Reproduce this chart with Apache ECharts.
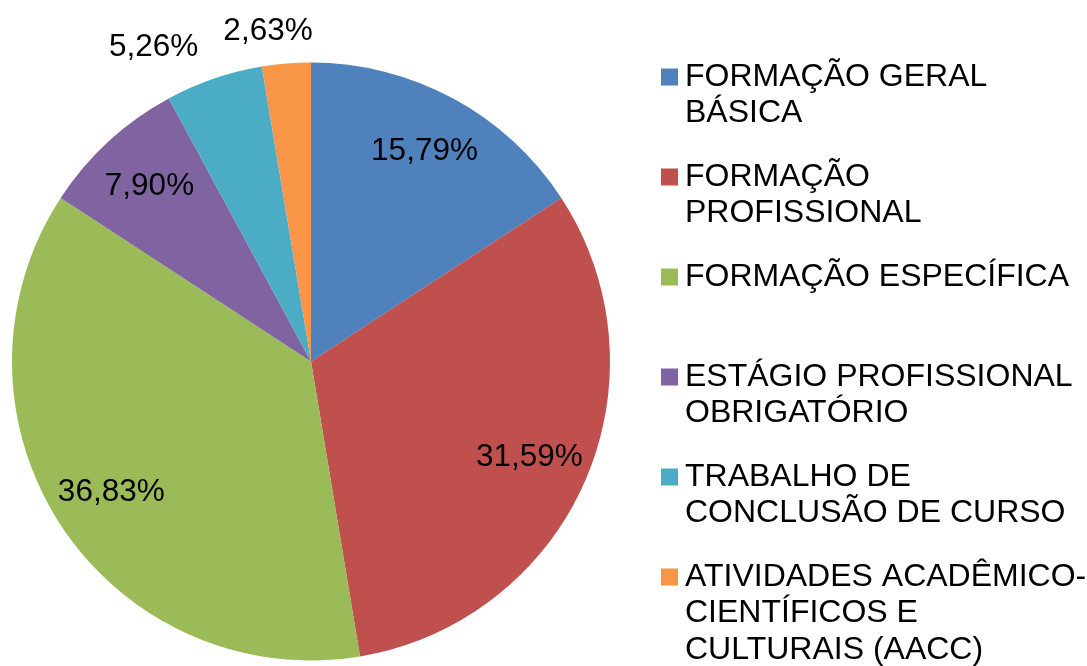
<!DOCTYPE html>
<html>
<head>
<meta charset="utf-8">
<script src="https://cdn.jsdelivr.net/npm/echarts@6/dist/echarts.min.js"></script>
<style>
html,body{margin:0;padding:0;background:#fff;}
#chart{width:1087px;height:666px;}
</style>
</head>
<body>
<div id="chart"></div>
<script>
// ---- data ----
const categories = [
  'FORMAÇÃO GERAL BÁSICA',
  'FORMAÇÃO PROFISSIONAL',
  'FORMAÇÃO ESPECÍFICA',
  'ESTÁGIO PROFISSIONAL OBRIGATÓRIO',
  'TRABALHO DE CONCLUSÃO DE CURSO',
  'ATIVIDADES ACADÊMICO-CIENTÍFICOS E CULTURAIS (AACC)'
];
const values = [15.79, 31.59, 36.83, 7.90, 5.26, 2.63];
const legendText = [
  'FORMAÇÃO GERAL\nBÁSICA',
  'FORMAÇÃO\nPROFISSIONAL',
  'FORMAÇÃO ESPECÍFICA',
  'ESTÁGIO PROFISSIONAL\nOBRIGATÓRIO',
  'TRABALHO DE\nCONCLUSÃO DE CURSO',
  'ATIVIDADES ACADÊMICO-\nCIENTÍFICOS E\nCULTURAIS (AACC)'
];

// ---- styles ----
const colors = ['#4F81BD', '#C0504D', '#9BBB59', '#8064A2', '#4BACC6', '#F79646'];
const FONT = "'Liberation Sans', Arial, sans-serif";
const LEG_FS = 32;
const LBL_FS = 31.5;
const LH = 36.5;
const CENTER = [311, 361.5];
const R = 299;
const INNER_LABEL_R = 172;
// outside label tweaks (label line lengths) per slice index
const outsideLabels = {4: {len: 33, len2: 0}, 5: {len: 32, len2: -34}};

function fmtPct(v) { return v.toFixed(2).replace('.', ',') + '%'; }

const mainData = categories.map((n, i) => ({
  name: n, value: values[i], itemStyle: {color: colors[i]}
}));

const labelData = categories.map((n, i) => {
  const o = outsideLabels[i];
  const d = {name: n, value: values[i]};
  if (o) {
    d.label = {position: 'outside'};
    d.labelLine = {show: false, length: o.len, length2: o.len2};
  }
  return d;
});

const legends = categories.map((n, i) => {
  const lines = legendText[i].split('\n');
  const k = lines.length;
  const centerY = 77 + 100 * i;
  return {
    orient: 'vertical',
    left: 661,
    top: centerY - (2 * k - 1) * LH / 2,
    padding: 0,
    icon: 'rect',
    itemWidth: 17,
    itemHeight: 17,
    selectedMode: false,
    data: [{name: n, itemStyle: {color: colors[i]}}],
    formatter: function (name) {
      const ls = legendText[categories.indexOf(name)].split('\n');
      const pre = [];
      for (let j = 1; j < ls.length; j++) pre.push('{e|}');
      return pre.concat(ls.map(l => '{t|' + l + '}')).join('\n');
    },
    textStyle: {
      fontFamily: FONT, fontSize: LEG_FS, lineHeight: LH, color: '#000',
      rich: {
        t: {fontFamily: FONT, fontSize: LEG_FS, lineHeight: LH, color: '#000', padding: [0, 0, 0, 2]},
        e: {fontFamily: FONT, fontSize: LEG_FS, lineHeight: LH, height: LH}
      }
    }
  };
});

const option = {
  animation: false,
  backgroundColor: '#fff',
  legend: legends,
  series: [
    {
      name: 'main',
      type: 'pie',
      center: CENTER,
      radius: R,
      startAngle: 90,
      clockwise: true,
      silent: true,
      label: {show: false},
      labelLine: {show: false},
      emphasis: {disabled: true},
      data: mainData
    },
    {
      name: 'labels',
      type: 'pie',
      center: CENTER,
      radius: [INNER_LABEL_R, R],
      startAngle: 90,
      clockwise: true,
      silent: true,
      avoidLabelOverlap: false,
      itemStyle: {color: 'rgba(0,0,0,0)'},
      emphasis: {disabled: true},
      label: {
        show: true,
        position: 'inside',
        fontFamily: FONT,
        fontSize: LBL_FS,
        color: '#000',
        formatter: function (p) { return fmtPct(p.value); }
      },
      labelLine: {show: false},
      data: labelData
    }
  ]
};

const chart = echarts.init(document.getElementById('chart'), null, {renderer: 'canvas'});
chart.setOption(option);
</script>
</body>
</html>
